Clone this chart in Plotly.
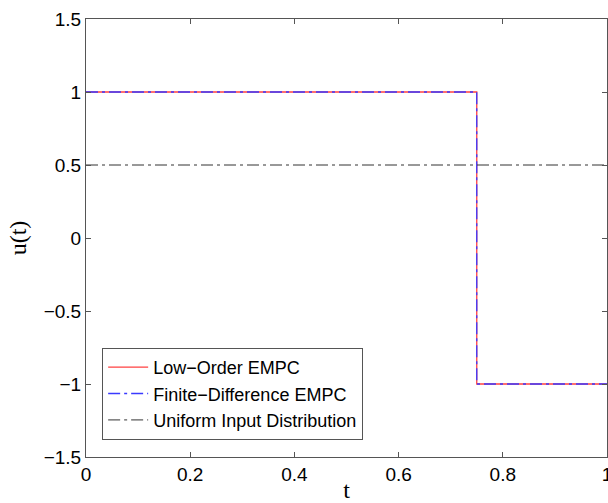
import plotly.graph_objects as go

# Data
t_step = [0, 0.75, 0.75, 1.0]
u_low_order = [1, 1, -1, -1]
u_finite_diff = [1, 1, -1, -1]
t_uniform = [0, 1.0]
u_uniform = [0.5, 0.5]

x_ticks = [0, 0.2, 0.4, 0.6, 0.8, 1]
x_ticklabels = ["0", "0.2", "0.4", "0.6", "0.8", "1"]
y_ticks = [-1.5, -1, -0.5, 0, 0.5, 1, 1.5]
y_ticklabels = ["\u22121.5", "\u22121", "\u22120.5", "0", "0.5", "1", "1.5"]

fig = go.Figure()
fig.add_trace(go.Scatter(x=t_step, y=u_low_order, mode="lines",
                         name="Low\u2212Order EMPC",
                         line=dict(color="#ff4040", width=1.3)))
fig.add_trace(go.Scatter(x=t_step, y=u_finite_diff, mode="lines",
                         name="Finite\u2212Difference EMPC",
                         line=dict(color="#3a3aff", width=1.3, dash="12px,4px,3px,4px")))
fig.add_trace(go.Scatter(x=t_uniform, y=u_uniform, mode="lines",
                         name="Uniform Input Distribution",
                         line=dict(color="#333333", width=1, dash="12px,4px,3px,4px")))

axis_common = dict(showgrid=False, zeroline=False, showline=True,
                   linecolor="#555555", linewidth=1, mirror="ticks",
                   ticks="inside", ticklen=5, tickcolor="#555555",
                   automargin=False,
                   tickfont=dict(family="Liberation Sans, Arial, sans-serif",
                                 size=19, color="#000000"))

fig.update_xaxes(range=[0, 1], tickvals=x_ticks, ticktext=x_ticklabels,
                 ticklabeloverflow="allow",
                 title=dict(text="t", standoff=3,
                            font=dict(family="Liberation Serif, Times New Roman, serif",
                                      size=24, color="#000000")),
                 **axis_common)
fig.update_yaxes(range=[-1.5, 1.5], tickvals=y_ticks, ticktext=y_ticklabels,
                 title=dict(text="u(t)", standoff=10,
                            font=dict(family="Liberation Serif, Times New Roman, serif",
                                      size=24, color="#000000")),
                 **axis_common)

fig.update_layout(
    width=608, height=503,
    margin=dict(l=86, r=1, t=19, b=46),
    plot_bgcolor="white", paper_bgcolor="white",
    legend=dict(x=0.031, y=0.039, xanchor="left", yanchor="bottom",
                bgcolor="white", bordercolor="#555555", borderwidth=1,
                font=dict(family="Liberation Sans, Arial, sans-serif",
                          size=18, color="#000000"),
                tracegroupgap=0, itemwidth=40),
    showlegend=True,
)

fig.write_html("out.html")
